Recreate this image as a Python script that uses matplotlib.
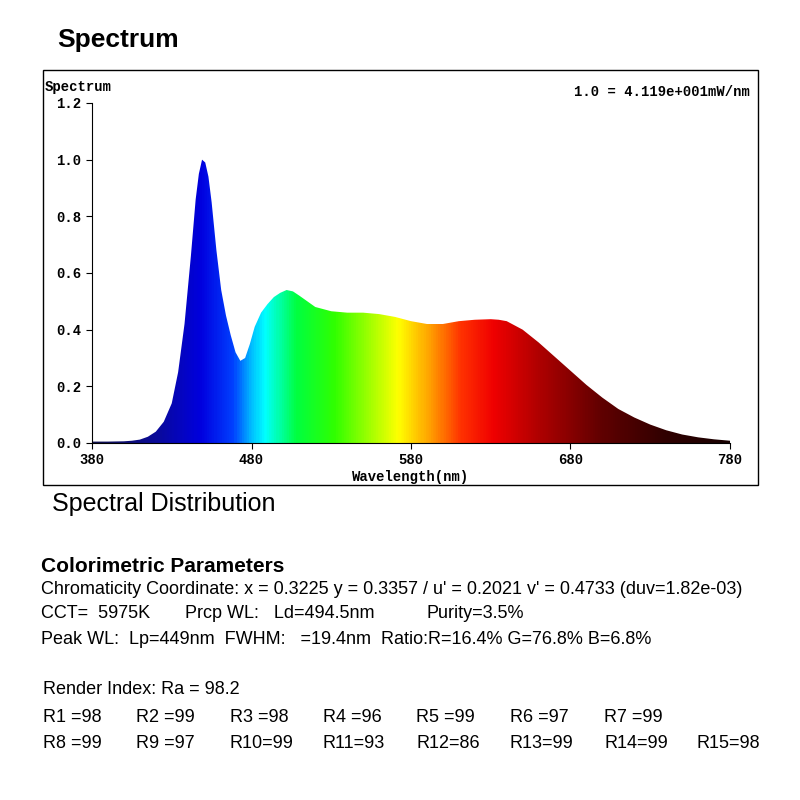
import numpy as np
import matplotlib
matplotlib.use("Agg")
from matplotlib import pyplot as plt
from matplotlib.colors import LinearSegmentedColormap
from matplotlib.patches import Rectangle

# spectrum
wavelengths = [380, 390, 400, 405, 410, 415, 420, 425, 430, 434, 438, 442, 445, 447, 449, 451,
               453, 455, 458, 461, 464, 467, 470, 473, 476, 479, 482, 486, 490, 494, 498,
               502, 506, 510, 515, 520, 530, 540, 550, 560, 570, 580, 590, 600, 610, 620,
               630, 635, 640, 650, 660, 670, 680, 690, 700, 710, 720, 730, 740, 750, 760,
               770, 780]
intensity = [0.005, 0.005, 0.006, 0.008, 0.012, 0.022, 0.04, 0.075, 0.14, 0.25, 0.42, 0.66,
             0.86, 0.95, 1.0, 0.99, 0.94, 0.85, 0.68, 0.54, 0.45, 0.38, 0.32, 0.29, 0.30,
             0.35, 0.41, 0.46, 0.49, 0.515, 0.53, 0.54, 0.535, 0.52, 0.50, 0.48, 0.465,
             0.46, 0.46, 0.455, 0.445, 0.43, 0.42, 0.42, 0.43, 0.435, 0.437, 0.435, 0.43,
             0.40, 0.355, 0.305, 0.255, 0.205, 0.16, 0.12, 0.09, 0.065, 0.045, 0.03, 0.02,
             0.013, 0.008]

xticks = [380, 480, 580, 680, 780]
yticks = [0.0, 0.2, 0.4, 0.6, 0.8, 1.0, 1.2]

chroma_line = "Chromaticity Coordinate: x = 0.3225 y = 0.3357 / u' = 0.2021 v' = 0.4733 (duv=1.82e-03)"
cct_line = ["CCT=  5975K", "Prcp WL:   Ld=494.5nm", "Purity=3.5%"]
peak_line = "Peak WL:  Lp=449nm  FWHM:   =19.4nm  Ratio:R=16.4% G=76.8% B=6.8%"
ra_line = "Render Index: Ra = 98.2"
r_values = [98, 99, 98, 96, 99, 97, 99, 99, 97, 99, 93, 86, 99, 99, 98]

W = H = 800
fig = plt.figure(figsize=(8, 8), dpi=100)

def fx(px):
    return px / W

def fy(py):
    return 1 - py / H

sans = "Liberation Sans"
mono = "Liberation Mono"
fs = 13

fig.text(fx(57), fy(40), "Spectrum", fontsize=19, fontweight="bold", family=sans, va="center")

# outer frame
fig.patches.append(Rectangle((fx(43), fy(485)), fx(758 - 43), (485 - 70) / H,
                             transform=fig.transFigure, fill=False, lw=1, ec="black"))

ax = fig.add_axes([fx(92), fy(443), fx(730 - 92), (443 - 103) / H])
ax.set_xlim(380, 780)
ax.set_ylim(0, 1.2)

cmap = LinearSegmentedColormap.from_list("wl", [
    (0.0, "#10104a"), (0.1, "#0a0a9a"), (0.17, "#0000e0"), (0.22, "#0040ff"),
    (0.25, "#00c0ff"), (0.27, "#00ffff"), (0.32, "#00ff40"), (0.38, "#30ff00"),
    (0.45, "#c0ff00"), (0.48, "#ffff00"), (0.53, "#ffa000"), (0.58, "#ff3000"),
    (0.63, "#f00000"), (0.70, "#b00000"), (0.80, "#600000"), (0.9, "#300000"),
    (1.0, "#180000")])
grad = np.linspace(0, 1, 800).reshape(1, -1)
img = ax.imshow(grad, extent=[380, 780, 0, 1.2], aspect="auto", cmap=cmap, zorder=1)
poly = ax.fill_between(wavelengths, intensity, 0, color="none", lw=0)
path = poly.get_paths()[0]
img.set_clip_path(path, transform=ax.transData)

for s in ["top", "right"]:
    ax.spines[s].set_visible(False)
ax.set_xticks(xticks)
ax.set_yticks(yticks)
ax.set_yticklabels([f"{v:.1f}" for v in yticks])
ax.tick_params(labelsize=10, length=4, direction="out")
for lab in ax.get_xticklabels() + ax.get_yticklabels():
    lab.set_family(mono)
    lab.set_fontweight("bold")
ax.set_xlabel("Wavelength(nm)", family=mono, fontweight="bold", fontsize=10, labelpad=2)
fig.text(fx(45), fy(87), "Spectrum", family=mono, fontweight="bold", fontsize=10, va="center")
fig.text(fx(750), fy(92), "1.0 = 4.119e+001mW/nm", family=mono, fontweight="bold",
         fontsize=10, va="center", ha="right")

fig.text(fx(52), fy(504), "Spectral Distribution", family=sans, fontsize=18, va="center")
fig.text(fx(41), fy(566), "Colorimetric Parameters", family=sans, fontsize=15,
         fontweight="bold", va="center")
fig.text(fx(41), fy(590), chroma_line, family=sans, fontsize=fs, va="center")
for txt, x in zip(cct_line, [41, 185, 427]):
    fig.text(fx(x), fy(614), txt, family=sans, fontsize=fs, va="center")
fig.text(fx(41), fy(639), peak_line, family=sans, fontsize=fs, va="center")
fig.text(fx(43), fy(690), ra_line, family=sans, fontsize=fs, va="center")

cols = [43, 136, 230, 323, 416, 510, 604, 697]
for i, v in enumerate(r_values):
    if i < 7:
        row, col = 0, i
    else:
        row, col = 1, i - 7
    label = f"R{i + 1} ={v}" if i < 9 else f"R{i + 1}={v}"
    fig.text(fx(cols[col]), fy(718 + row * 26), label, family=sans, fontsize=fs, va="center")

fig.savefig("out.png", dpi=100)
